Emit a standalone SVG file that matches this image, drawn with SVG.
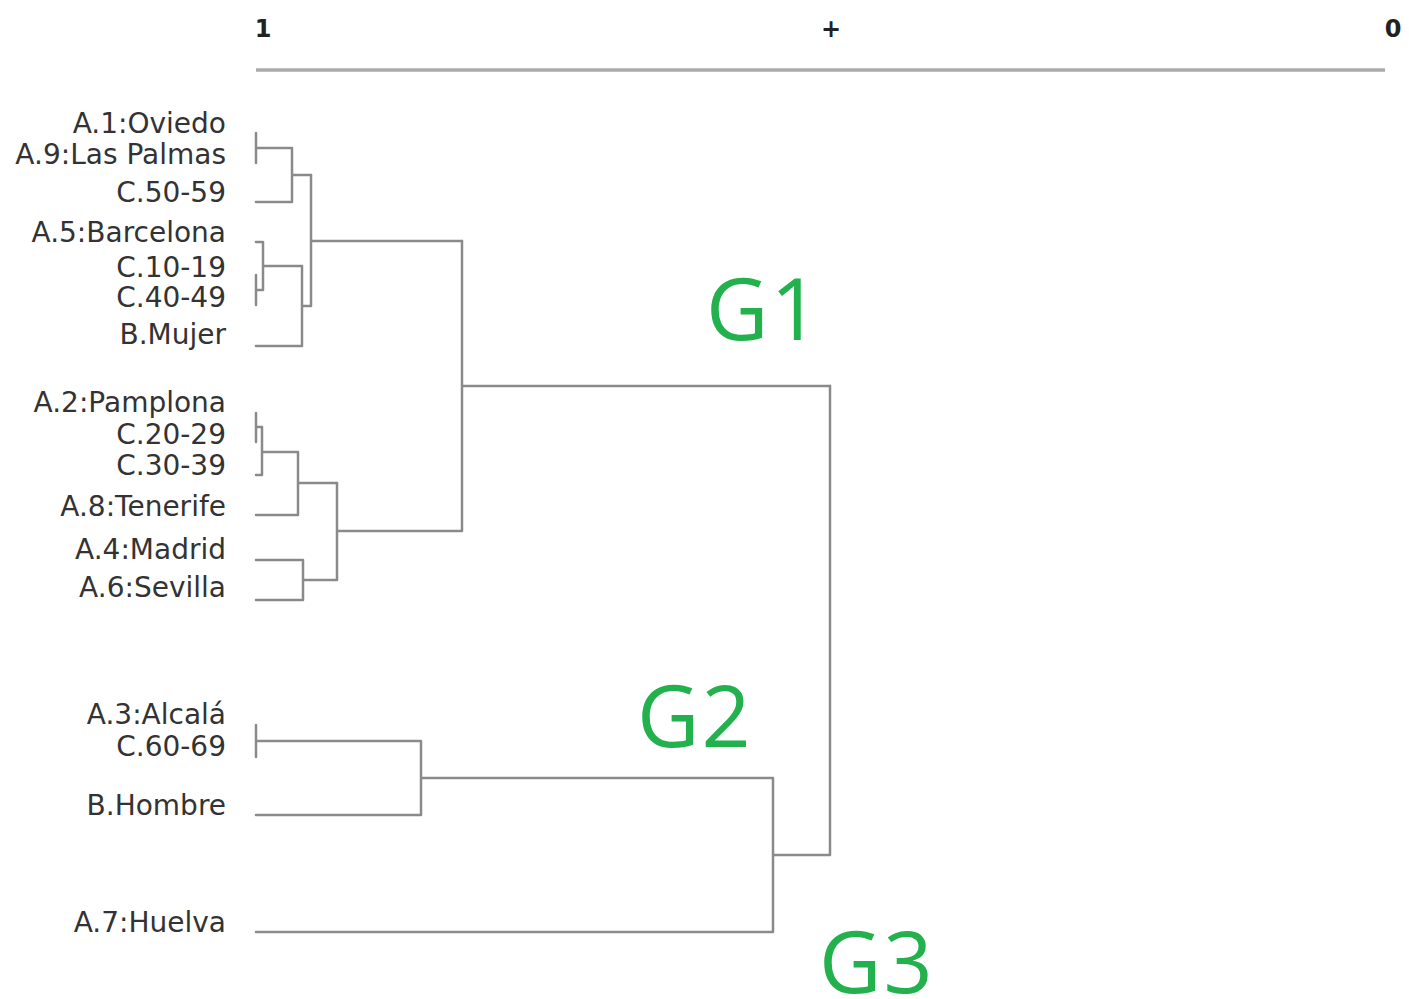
<svg xmlns="http://www.w3.org/2000/svg" width="1409" height="999" viewBox="0 0 1409 999">
<style>
.lbl{font-family:"DejaVu Sans",Verdana,sans-serif;font-size:28px;fill:#333;text-anchor:end}
.ax{font-family:"DejaVu Sans",Verdana,sans-serif;font-size:24px;fill:#222;text-anchor:middle;font-weight:bold}
.g{font-family:"Open Sans","Noto Sans",sans-serif;font-size:86px;fill:#22b14c;letter-spacing:2px}
.ln{fill:none;stroke:#8a8a8a;stroke-width:2.5;stroke-linejoin:round;stroke-linecap:round}
</style>
<rect width="1409" height="999" fill="#fff"/>
<g id="axis">
<line x1="256" y1="70" x2="1385" y2="70" stroke="#aaa" stroke-width="3.5"/>
<text class="ax" x="263" y="37">1</text>
<text class="ax" x="831" y="37">+</text>
<text class="ax" x="1393" y="37">0</text>
</g>
<g id="labels">
<text id="n-oviedo" class="lbl" x="226" y="133">A.1:Oviedo</text>
<text id="n-laspalmas" class="lbl" x="226" y="164">A.9:Las Palmas</text>
<text id="n-c50" class="lbl" x="226" y="202">C.50-59</text>
<text id="n-barcelona" class="lbl" x="226" y="242">A.5:Barcelona</text>
<text id="n-c10" class="lbl" x="226" y="277">C.10-19</text>
<text id="n-c40" class="lbl" x="226" y="307">C.40-49</text>
<text id="n-mujer" class="lbl" x="226" y="344">B.Mujer</text>
<text id="n-pamplona" class="lbl" x="226" y="412">A.2:Pamplona</text>
<text id="n-c20" class="lbl" x="226" y="444">C.20-29</text>
<text id="n-c30" class="lbl" x="226" y="475">C.30-39</text>
<text id="n-tenerife" class="lbl" x="226" y="516">A.8:Tenerife</text>
<text id="n-madrid" class="lbl" x="226" y="559">A.4:Madrid</text>
<text id="n-sevilla" class="lbl" x="226" y="597">A.6:Sevilla</text>
<text id="n-alcala" class="lbl" x="226" y="724">A.3:Alcalá</text>
<text id="n-c60" class="lbl" x="226" y="756">C.60-69</text>
<text id="n-hombre" class="lbl" x="226" y="815">B.Hombre</text>
<text id="n-huelva" class="lbl" x="226" y="932">A.7:Huelva</text>
</g>
<g id="connectors" class="ln">
<path d="M256 133V163M256 148H292V202H256M292 175H311"/>
<path d="M256 275V305M256 242H263V290H256M263 266H302V346H256M302 306H311M311 175V306M311 241H462"/>
<path d="M256 413V442M256 427H262V475H256M262 452H298V515H256M298 483H337"/>
<path d="M256 560H303V600H256M303 580H337M337 483V580M337 531H462M462 241V531M462 386H830"/>
<path d="M256 725V757M256 741H421V815H256M421 778H773V932H256M773 855H830V386"/>
</g>
<g id="groups">
<text id="g1" class="g" x="706" y="340">G1</text>
<text id="g2" class="g" x="637" y="747">G2</text>
<text id="g3" class="g" x="819" y="993">G3</text>
</g>
</svg>
